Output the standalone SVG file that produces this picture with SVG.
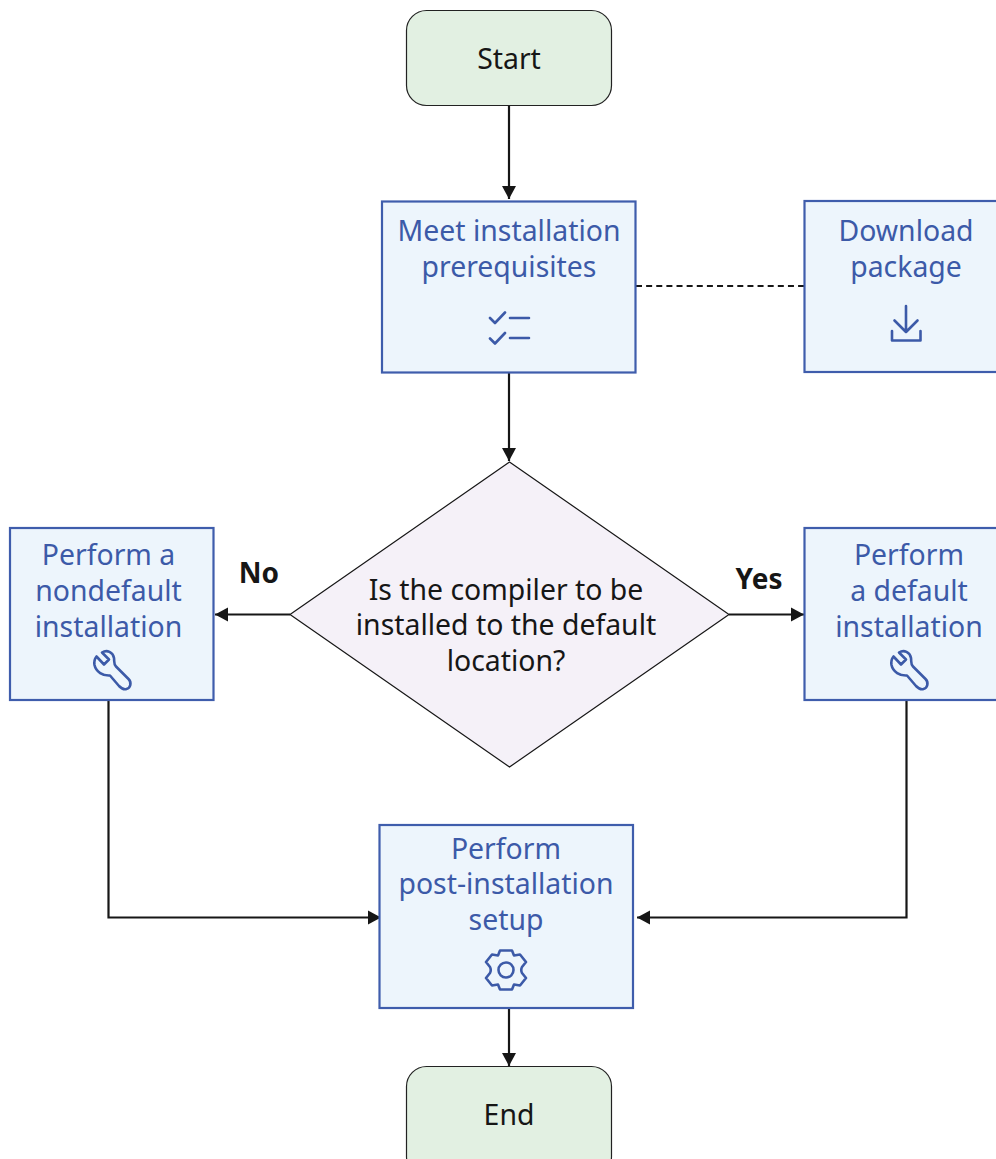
<svg xmlns="http://www.w3.org/2000/svg" width="996" height="1159" viewBox="0 0 996 1159">
<style>
text{font-family:"Noto Sans","Open Sans","Liberation Sans",sans-serif;font-size:28.400px;text-anchor:middle}
.t{fill:#3c5aa8}.d{fill:#161616}.b{fill:#161616;font-weight:700;font-size:28px}
.box{fill:#edf5fc;stroke:#3f5dac;stroke-width:2.2}
.term{fill:#e2f0e2;stroke:#222;stroke-width:1.2}
.dia{fill:#f5f1f8;stroke:#161616;stroke-width:1.200}
.c{fill:none;stroke:#161616;stroke-width:2.200}
.ic{fill:none;stroke:#3c5aa8;stroke-width:2.600;stroke-linejoin:round;stroke-linecap:round}
</style>
<defs>
<marker id="a" markerUnits="userSpaceOnUse" markerWidth="15" markerHeight="16" refX="13" refY="8" orient="auto"><path d="M0,1L13,8L0,15z" fill="#161616"/></marker>
<path id="wrench" class="ic" d="M-10,-19.500C-5,-22.500 1,-20 2,-14C2.500,-10 1.500,-8 4,-5.500L16.500,7C20,10.500 18.500,16 14.500,17C11.500,18 9,16 7,14L-2,3.500C-9,4 -16,0 -17.500,-7C-18,-10 -17.500,-13 -15.500,-15.500L-8,-7.500L-3,-12.500Z"/>
</defs>
<g id="connectors">
<path class="c" d="M509,106V199" marker-end="url(#a)"/>
<path class="c" d="M509,373V461" marker-end="url(#a)"/>
<path class="c" d="M636,286H804" stroke-dasharray="6 4.130"/>
<path class="c" d="M290,614.500H215" marker-end="url(#a)"/>
<path class="c" d="M729,614.500H804" marker-end="url(#a)"/>
<path class="c" d="M108.500,701V917.500H381" marker-end="url(#a)"/>
<path class="c" d="M906.500,701V917.500H637" marker-end="url(#a)"/>
<path class="c" d="M509,1009V1066" marker-end="url(#a)"/>
</g>
<g id="start"><rect class="term" x="406.500" y="10.500" width="205" height="95" rx="20"/><text class="d" x="509" y="69">Start</text></g>
<g id="prereq"><rect class="box" x="382" y="201.500" width="253.500" height="171"/>
<text class="t" x="509" y="241">Meet installation</text><text class="t" x="509" y="277">prerequisites</text>
<path class="ic" d="M490,318L495,323L505,312.500M490,338.500L495,343.500L505,333M510,318H529M510,338H529" stroke-linecap="butt"/></g>
<g id="download"><rect class="box" x="804.500" y="201" width="194" height="171"/>
<text class="t" x="906" y="241">Download</text><text class="t" x="906" y="277">package</text>
<path class="ic" d="M906,306V332M894.500,320.500L906,332L917.500,320.500M892,331V340.500H920.500V331"/></g>
<g id="decision"><polygon class="dia" points="509.500,462 729,614.500 509.500,767 290,614.500"/>
<text class="d" x="506" y="600">Is the compiler to be</text><text class="d" x="506" y="635">installed to the default</text><text class="d" x="506" y="671">location?</text></g>
<g id="no"><text class="b" x="259" y="583">No</text></g>
<g id="yes"><text class="b" x="759" y="589">Yes</text></g>
<g id="nondefault"><rect class="box" x="10" y="528" width="203.500" height="172"/>
<text class="t" x="108.500" y="565">Perform a</text><text class="t" x="108.500" y="601">nondefault</text><text class="t" x="108.500" y="637">installation</text>
<use href="#wrench" x="112" y="672"/></g>
<g id="default"><rect class="box" x="804.500" y="528" width="194" height="172"/>
<text class="t" x="909" y="565">Perform</text><text class="t" x="909" y="601">a default</text><text class="t" x="909" y="637">installation</text>
<use href="#wrench" x="909" y="672"/></g>
<g id="post"><rect class="box" x="379.500" y="825" width="253.500" height="183"/>
<text class="t" x="506" y="859">Perform</text><text class="t" x="506" y="894">post-installation</text><text class="t" x="506" y="930">setup</text>
<g transform="translate(506,970)"><circle class="ic" r="7.500"/><path class="ic" d="M-6,-19.500H6L8,-14.500L14,-15.500L20,-8L16,-3Q14.500,0 16,3L20,8L14,15.500L8,14.500L6,19.500H-6L-8,14.500L-14,15.500L-20,8L-16,3Q-14.500,0 -16,-3L-20,-8L-14,-15.500L-8,-14.500Z"/></g></g>
<g id="end"><rect class="term" x="406.500" y="1066.500" width="205" height="110" rx="20"/><text class="d" x="509" y="1125">End</text></g>
</svg>
